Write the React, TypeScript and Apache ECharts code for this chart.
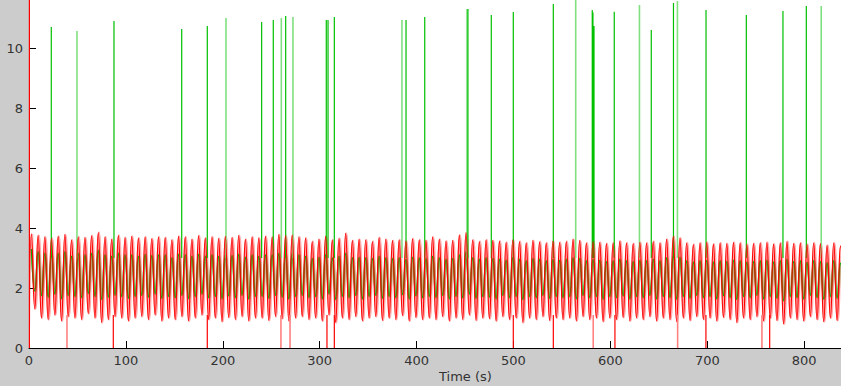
import React, { useEffect, useRef } from "react";
import * as echarts from "echarts";

// Time axis
const X_MIN = 0;
const X_MAX = 838;
const Y_MIN = 0;
const Y_MAX = 11.6;
const T0 = 2.5; // first red/green peak (s)
const PERIOD = 6.9; // oscillation period (s)

// Red signal: peak & trough value of each cycle
const redPeaks = [
  3.8, 3.75, 3.7, 3.65, 3.72, 3.78, 3.6, 3.7, 3.68, 3.74,
  3.85, 3.7, 3.62, 3.75, 3.68, 3.72, 3.66, 3.7, 3.64, 3.7,
  3.68, 3.6, 3.72, 3.7, 3.62, 3.74, 3.66, 3.7, 3.65, 3.72,
  3.68, 3.75, 3.62, 3.7, 3.66, 3.72, 3.7, 3.78, 3.74, 3.76,
  3.7, 3.66, 3.55, 3.62, 3.72, 3.6, 3.65, 3.82, 3.58, 3.62,
  3.6, 3.55, 3.68, 3.62, 3.58, 3.6, 3.56, 3.64, 3.6, 3.58,
  3.7, 3.62, 3.56, 3.58, 3.76, 3.85, 3.6, 3.55, 3.6, 3.58,
  3.56, 3.52, 3.6, 3.55, 3.5, 3.58, 3.54, 3.5, 3.56, 3.52,
  3.55, 3.62, 3.58, 3.5, 3.55, 3.52, 3.48, 3.5, 3.56, 3.5,
  3.48, 3.52, 3.5, 3.55, 3.5, 3.62, 3.72, 3.66, 3.5, 3.45,
  3.5, 3.52, 3.46, 3.5, 3.48, 3.52, 3.5, 3.45, 3.48, 3.5,
  3.52, 3.46, 3.5, 3.55, 3.48, 3.5, 3.45, 3.5, 3.48, 3.42, 3.5, 3.4,
];
const redTroughs = [
  1.3, 1.0, 0.95, 1.1, 0.9, 1.05, 1.0, 0.95, 1.15, 1.0,
  0.85, 0.95, 1.05, 1.0, 0.9, 1.0, 1.05, 0.95, 1.1, 0.9,
  1.0, 0.95, 1.05, 0.9, 1.0, 1.1, 0.95, 1.0, 0.88, 1.02,
  0.95, 1.05, 0.9, 1.0, 1.0, 0.92, 1.05, 0.98, 0.9, 1.0,
  1.05, 0.95, 1.0, 0.9, 1.1, 0.85, 1.0, 0.95, 1.05, 0.9,
  1.0, 1.05, 0.92, 1.0, 0.95, 1.08, 0.9, 1.02, 0.95, 1.0,
  0.95, 1.05, 0.9, 1.0, 0.95, 1.1, 0.92, 1.0, 0.98, 0.9,
  1.05, 0.95, 1.0, 0.85, 1.0, 0.95, 1.05, 0.92, 1.0, 0.95,
  1.0, 0.9, 1.05, 0.95, 1.0, 0.88, 1.0, 0.95, 1.02, 0.9,
  1.0, 0.95, 1.05, 0.9, 1.0, 0.95, 0.88, 1.0, 0.92, 1.05,
  0.95, 1.0, 0.9, 1.02, 0.95, 0.85, 1.0, 0.95, 1.05, 0.9,
  1.0, 0.92, 0.8, 1.0, 0.95, 0.9, 1.05, 0.95, 0.88, 1.0, 0.92, 1.0,
];

// Green signal: peak & trough value of each cycle
const greenPeaks = [
  3.3, 3.2, 3.15, 3.1, 3.15, 3.2, 3.05, 3.15, 3.1, 3.15,
  3.25, 3.1, 3.05, 3.15, 3.1, 3.1, 3.05, 3.12, 3.08, 3.1,
  3.1, 3.0, 3.12, 3.1, 3.05, 3.12, 3.06, 3.1, 3.05, 3.1,
  3.08, 3.12, 3.02, 3.1, 3.05, 3.1, 3.1, 3.15, 3.12, 3.15,
  3.1, 3.05, 2.98, 3.02, 3.1, 3.0, 3.05, 3.15, 3.0, 3.02,
  3.0, 2.98, 3.05, 3.0, 2.98, 3.0, 2.95, 3.02, 3.0, 2.98,
  3.05, 3.0, 2.95, 2.98, 3.1, 3.2, 3.0, 2.95, 3.0, 2.98,
  2.95, 2.92, 3.0, 2.95, 2.9, 2.98, 2.95, 2.9, 2.95, 2.92,
  2.95, 3.0, 2.98, 2.9, 2.95, 2.92, 2.88, 2.9, 2.95, 2.9,
  2.88, 2.92, 2.9, 2.95, 2.9, 3.0, 3.08, 3.02, 2.9, 2.86,
  2.9, 2.92, 2.86, 2.9, 2.88, 2.92, 2.9, 2.86, 2.88, 2.9,
  2.92, 2.86, 2.9, 2.95, 2.88, 2.9, 2.85, 2.9, 2.88, 2.84, 2.9, 2.82,
];
const greenTroughs = [
  1.9, 1.75, 1.7, 1.8, 1.65, 1.75, 1.72, 1.68, 1.82, 1.72,
  1.62, 1.7, 1.76, 1.72, 1.66, 1.72, 1.76, 1.7, 1.8, 1.66,
  1.72, 1.68, 1.76, 1.65, 1.72, 1.8, 1.68, 1.72, 1.64, 1.74,
  1.68, 1.76, 1.64, 1.72, 1.72, 1.66, 1.76, 1.7, 1.64, 1.72,
  1.76, 1.68, 1.72, 1.64, 1.8, 1.62, 1.72, 1.68, 1.76, 1.64,
  1.72, 1.76, 1.66, 1.72, 1.68, 1.78, 1.64, 1.74, 1.68, 1.72,
  1.68, 1.76, 1.64, 1.72, 1.68, 1.8, 1.66, 1.72, 1.7, 1.64,
  1.76, 1.68, 1.72, 1.62, 1.72, 1.68, 1.76, 1.66, 1.72, 1.68,
  1.72, 1.64, 1.76, 1.68, 1.72, 1.63, 1.72, 1.68, 1.74, 1.64,
  1.72, 1.68, 1.76, 1.64, 1.72, 1.68, 1.63, 1.72, 1.66, 1.76,
  1.68, 1.72, 1.64, 1.74, 1.68, 1.62, 1.72, 1.68, 1.76, 1.64,
  1.72, 1.66, 1.58, 1.72, 1.68, 1.64, 1.76, 1.68, 1.63, 1.72, 1.66, 1.5,
];

// Green upward spikes: [time (s), top value]
const greenSpikesDark = [
  [23.0, 10.7], [87.7, 10.9], [157.6, 10.63], [184.0, 10.73], [240.1, 10.87],
  [252.1, 10.93], [264.9, 11.07], [306.8, 10.93], [308.6, 10.93], [315.1, 11.03],
  [389.1, 10.93], [408.4, 11.03], [453.0, 11.3], [477.1, 11.1], [499.8, 11.2],
  [541.1, 11.47], [581.3, 11.27], [582.0, 11.18], [583.1, 10.73], [604.0, 11.21],
  [642.2, 10.6], [665.1, 11.5], [698.7, 11.27], [740.3, 11.1], [778.1, 11.23],
  [802.2, 11.4],
];
const greenSpikesLight = [
  [49.5, 10.57], [203.3, 11.0], [260.4, 11.0], [272.4, 11.03], [384.9, 10.93],
  [452.0, 11.3], [564.2, 11.7], [630.0, 11.43], [669.2, 11.57], [817.6, 11.4],
];
// Red downward spikes (to zero): times (s)
const redDropsDark = [87.0, 184.0, 307.5, 315.1, 499.8, 541.1, 604.7, 698.6, 764.4];
const redDropsLight = [39.2, 260.0, 269.4, 582.3, 669.4, 756.4];

const X_TICKS = 100;
const Y_TICKS = 2;

function wave(peaks: number[], troughs: number[], shift: number) {
  const out: any[] = [];
  for (let i = 0; i < peaks.length; i++) {
    const t = T0 + shift + i * PERIOD;
    out.push([t, peaks[i]]);
    out.push([t + PERIOD / 2, troughs[i]]);
  }
  return out;
}

function upSpikes(list: number[][], base: number) {
  const out: any[] = [];
  list.forEach(([t, v]) => {
    out.push([t, base], [t, v], [t, "-"]);
  });
  return out;
}

function downSpikes(list: number[], base: number) {
  const out: any[] = [];
  list.forEach((t) => {
    out.push([t, base], [t, 0], [t, "-"]);
  });
  return out;
}

function lineSeries(data: any[], color: string, width: number, z: number, smooth = false) {
  return {
    type: "line",
    data,
    showSymbol: false,
    symbol: "none",
    smooth,
    silent: true,
    z,
    connectNulls: false,
    lineStyle: { color, width },
  };
}

export default function App() {
  const ref = useRef<HTMLDivElement>(null);

  useEffect(() => {
    if (!ref.current) return;
    const chart = echarts.init(ref.current, undefined, { renderer: "svg" });
    const redStart = [[0.4, Y_MAX], [0.4, 0], [0.5, 1.3]];
    const redMain = redStart.concat(wave(redPeaks, redTroughs, 0));

    chart.setOption({
      animation: false,
      backgroundColor: "#cccccc",
      grid: {
        left: 29,
        right: 0,
        top: 0,
        bottom: 38,
        show: true,
        backgroundColor: "#ffffff",
        borderWidth: 0,
      },
      xAxis: {
        type: "value",
        min: X_MIN,
        max: X_MAX,
        interval: X_TICKS,
        axisLine: { show: true, onZero: false, lineStyle: { color: "#000", width: 1 } },
        axisTick: { show: true, inside: true, length: 7, lineStyle: { color: "#000" } },
        axisLabel: {
          color: "#333",
          fontSize: 13,
          fontFamily: "DejaVu Sans",
          margin: 6,
          showMaxLabel: false,
        },
        splitLine: { show: false },
      },
      yAxis: {
        type: "value",
        min: Y_MIN,
        max: Y_MAX,
        interval: Y_TICKS,
        axisLine: { show: true, onZero: false, lineStyle: { color: "#000", width: 1, type: [4, 2] } },
        axisTick: { show: true, inside: true, length: 7, lineStyle: { color: "#000" } },
        axisLabel: {
          color: "#333",
          fontSize: 13,
          fontFamily: "DejaVu Sans",
          margin: 6,
          showMaxLabel: false,
        },
        splitLine: { show: false },
      },
      graphic: [
        {
          type: "text",
          left: 439,
          top: 370,
          style: { text: "Time (s)", fill: "#333", font: "13px 'DejaVu Sans'" },
        },
      ],
      series: [
        lineSeries(wave(greenPeaks, greenTroughs, 0.5), "rgba(110,215,110,0.7)", 2.4, 1, true),
        lineSeries(wave(redPeaks, redTroughs, 0.7), "rgba(255,70,70,0.45)", 2.4, 2, true),
        lineSeries(wave(greenPeaks, greenTroughs, 0), "#00b000", 1.3, 3, true),
        lineSeries(upSpikes(greenSpikesLight, 3), "#80e080", 1.6, 4),
        lineSeries(upSpikes(greenSpikesDark, 3), "#00c000", 1.2, 5),
        lineSeries(redMain, "#ff0000", 1.2, 6, true),
        lineSeries(downSpikes(redDropsLight, 1.1), "#ff8080", 1.6, 7),
        lineSeries(downSpikes(redDropsDark, 1.1), "#ff0000", 1.2, 8),
      ],
    });
    return () => chart.dispose();
  }, []);

  return (
    <div
      ref={ref}
      style={{ position: "fixed", left: 0, top: 0, width: 841, height: 386 }}
    />
  );
}
